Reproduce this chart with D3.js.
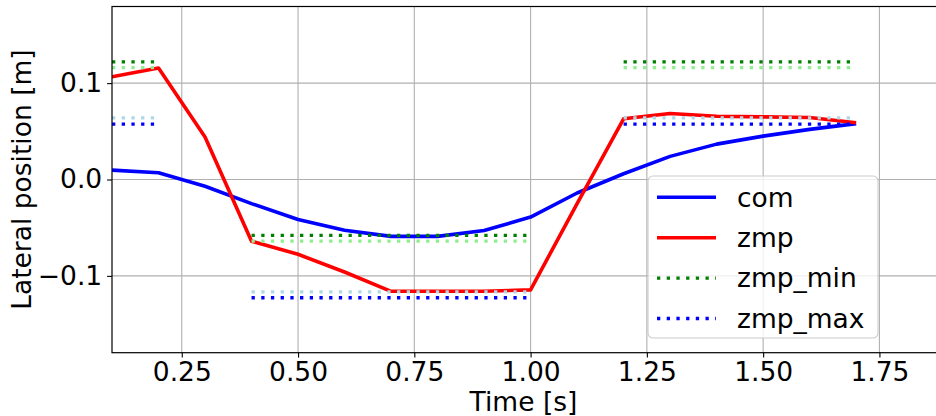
<!DOCTYPE html>
<html>
<head>
<meta charset="utf-8">
<script src="https://cdn.jsdelivr.net/npm/d3@7"></script>
<style>
  html, body { margin: 0; padding: 0; background: #fff; }
  svg { display: block; }
  text { font-family: "DejaVu Sans", sans-serif; }
</style>
</head>
<body>
<svg id="chart" width="936" height="416"></svg>
<script>
// Sample times [s]
const time = [0.1, 0.2, 0.3, 0.4, 0.5, 0.6, 0.7, 0.8, 0.9, 1.0, 1.1, 1.2, 1.3, 1.4, 1.5, 1.6, 1.7];
// Centre of mass, lateral [m]
const com = [0.0097, 0.007, -0.007, -0.025, -0.0415, -0.0527, -0.059, -0.059, -0.053, -0.039, -0.014, 0.006, 0.024, 0.0367, 0.045, 0.052, 0.058];
// Zero moment point, lateral [m]
const zmp = [0.1066, 0.1157, 0.0442, -0.064, -0.0776, -0.096, -0.116, -0.116, -0.116, -0.1145, -0.025, 0.063, 0.0685, 0.0657, 0.065, 0.0644, 0.0588];

// Support phases and their ZMP bounds
const phaseStart = [0.1, 0.4, 1.2];
const phaseEnd = [0.2, 1.0, 1.7];
const zmpMin = [0.122, -0.058, 0.122];
const zmpMax = [0.0574, -0.1227, 0.0574];
const zmpMinInner = [0.116, -0.064, 0.116];
const zmpMaxInner = [0.064, -0.1165, 0.064];

// Axis ticks
const xTicks = [0.25, 0.5, 0.75, 1.0, 1.25, 1.5, 1.75];
const yTicks = [-0.1, 0.0, 0.1];

const legendNames = ["com", "zmp", "zmp_min", "zmp_max"];

const svg = d3.select("#chart");
const plotLeft = 112, plotRight = 935, plotTop = 6.5, plotBottom = 352.7;
const fs = 26.5;

const x = d3.scaleLinear().domain([0.1, 1.8695]).range([plotLeft, plotRight]);
const y = d3.scaleLinear().domain([-0.1797, 0.1795]).range([plotBottom, plotTop]);

svg.append("defs").append("clipPath").attr("id", "plot-clip")
  .append("rect").attr("x", plotLeft).attr("y", plotTop)
  .attr("width", plotRight - plotLeft + 1).attr("height", plotBottom - plotTop);

// Grid
const grid = svg.append("g");
grid.selectAll(".gx").data(xTicks).join("line")
  .attr("x1", d => x(d)).attr("x2", d => x(d)).attr("y1", plotTop).attr("y2", plotBottom)
  .attr("stroke", "#b0b0b0").attr("stroke-width", 1.1);
grid.selectAll(".gy").data(yTicks).join("line")
  .attr("y1", d => y(d)).attr("y2", d => y(d)).attr("x1", plotLeft).attr("x2", 936)
  .attr("stroke", "#b0b0b0").attr("stroke-width", 1.1);

const plot = svg.append("g").attr("clip-path", "url(#plot-clip)");
const line = d3.line().x(d => x(d[0])).y(d => y(d[1]));

plot.append("path").attr("d", line(time.map((t, i) => [t, com[i]])))
  .attr("fill", "none").attr("stroke", "#0000ff").attr("stroke-width", 3.6).attr("stroke-linejoin", "round");
plot.append("path").attr("d", line(time.map((t, i) => [t, zmp[i]])))
  .attr("fill", "none").attr("stroke", "#ff0000").attr("stroke-width", 3.6).attr("stroke-linejoin", "round");

const dash = "3.3,6.4";
function bounds(values, color) {
  plot.append("g").selectAll("line").data(values).join("line")
    .attr("x1", (d, i) => x(phaseStart[i])).attr("x2", (d, i) => x(phaseEnd[i]))
    .attr("y1", d => y(d)).attr("y2", d => y(d))
    .attr("stroke", color).attr("stroke-width", 3.3).attr("stroke-dasharray", dash);
}
bounds(zmpMinInner, "#90ee90");
bounds(zmpMaxInner, "#add8e6");
bounds(zmpMin, "#008000");
bounds(zmpMax, "#0000ff");

// Axes
const xAxis = d3.axisBottom(x).tickValues(xTicks).tickFormat(d3.format(".2f")).tickSize(4.9).tickPadding(4.9);
const yAxis = d3.axisLeft(y).tickValues(yTicks).tickFormat(d => d3.format(".1f")(d).replace("-", "\u2212")).tickSize(4.9).tickPadding(4.9);

const gx = svg.append("g").attr("transform", `translate(0,${plotBottom})`).call(xAxis);
const gy = svg.append("g").attr("transform", `translate(${plotLeft},0)`).call(yAxis);
[gx, gy].forEach(g => {
  g.select(".domain").remove();
  g.selectAll(".tick line").attr("stroke", "#000").attr("stroke-width", 1.1);
  g.selectAll(".tick text").attr("font-size", fs).attr("fill", "#000").attr("font-family", "DejaVu Sans");
});

// Frame (the right spine lies just past the visible edge)
svg.append("rect").attr("x", plotLeft).attr("y", plotTop)
  .attr("width", 940 - plotLeft).attr("height", plotBottom - plotTop)
  .attr("fill", "none").attr("stroke", "#000").attr("stroke-width", 1.2);

// Axis labels
svg.append("text").attr("x", (plotLeft + plotRight) / 2).attr("y", 410.5).attr("text-anchor", "middle")
  .attr("font-size", fs).text("Time [s]");
svg.append("text").attr("transform", `translate(31,${(plotTop + plotBottom) / 2}) rotate(-90)`)
  .attr("text-anchor", "middle").attr("font-size", fs).text("Lateral position [m]");

// Legend
const legend = svg.append("g");
legend.append("rect").attr("x", 648).attr("y", 176).attr("width", 230).attr("height", 162)
  .attr("rx", 5).attr("fill", "#fff").attr("fill-opacity", 0.8)
  .attr("stroke", "#cccccc").attr("stroke-width", 1.1);
const legendStyle = [
  { color: "#0000ff", dash: null },
  { color: "#ff0000", dash: null },
  { color: "#008000", dash: dash },
  { color: "#0000ff", dash: dash }
];
legendNames.forEach((name, i) => {
  const ly = 197.3 + i * 40.4;
  legend.append("line").attr("x1", 657).attr("x2", 716).attr("y1", ly).attr("y2", ly)
    .attr("stroke", legendStyle[i].color).attr("stroke-width", legendStyle[i].dash ? 3.3 : 3.6)
    .attr("stroke-dasharray", legendStyle[i].dash);
  legend.append("text").attr("x", 737).attr("y", ly).attr("dy", "0.35em").attr("font-size", fs).text(name);
});
</script>
</body>
</html>
